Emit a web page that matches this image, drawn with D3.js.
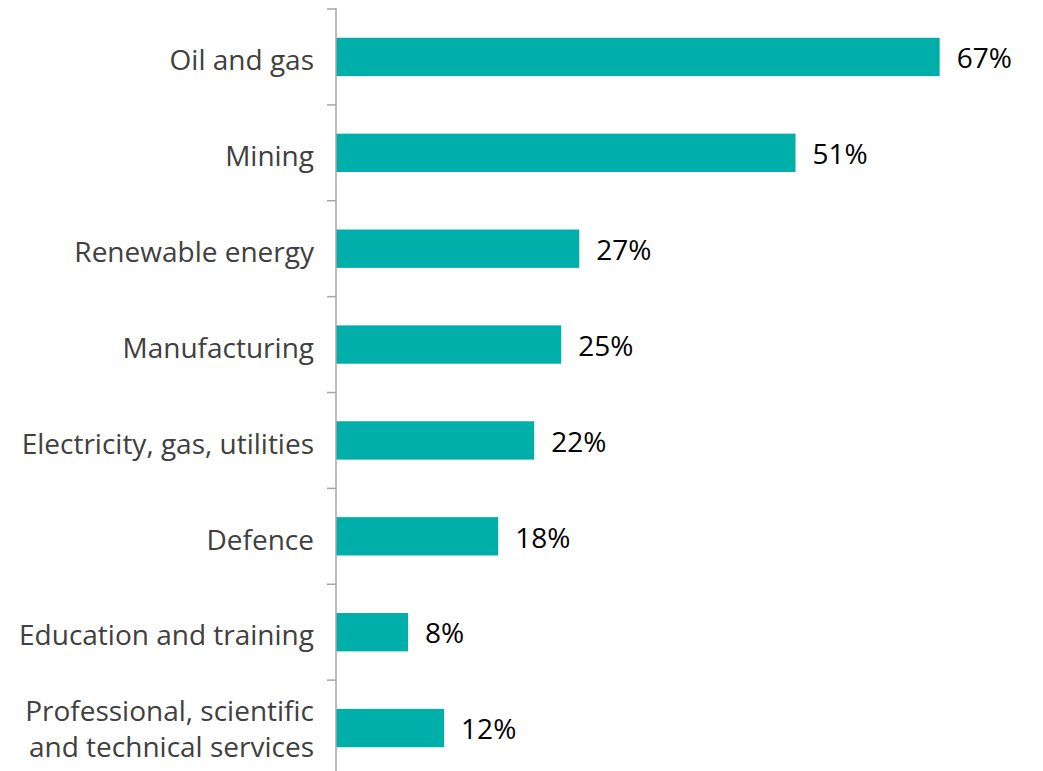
<!DOCTYPE html>
<html>
<head>
<meta charset="utf-8">
<script src="https://cdn.jsdelivr.net/npm/d3@7"></script>
<style>
  html, body { margin: 0; padding: 0; background: #fff; }
  svg { display: block; }
</style>
</head>
<body>
<svg id="chart" width="1043" height="771"></svg>
<script>
// Share of respondents by sector
const categories = [
  ["Oil and gas"],
  ["Mining"],
  ["Renewable energy"],
  ["Manufacturing"],
  ["Electricity, gas, utilities"],
  ["Defence"],
  ["Education and training"],
  ["Professional, scientific", "and technical services"]
];
const values = [67, 51, 27, 25, 22, 18, 8, 12];

const W = 1043, H = 771;
const axisX = 336;
const svg = d3.select("#chart");

const y = d3.scaleBand()
  .domain(d3.range(categories.length))
  .range([9, 776])
  .paddingInner(0.6)
  .paddingOuter(0.3);

const x = d3.scaleLinear().domain([0, 100]).range([axisX, axisX + 901]);

const font = "'Open Sans', sans-serif";
const fontSize = 28;

// bars
svg.append("g").selectAll("rect")
  .data(values)
  .join("rect")
  .attr("x", x(0))
  .attr("y", (d, i) => y(i))
  .attr("width", d => x(d) - x(0))
  .attr("height", y.bandwidth())
  .attr("fill", "#00AFAA");

// vertical axis with ticks at band boundaries
const step = y.step();
const axisG = svg.append("g").attr("stroke", "#A6A6A6").attr("stroke-width", 1.5);
axisG.append("line")
  .attr("x1", axisX).attr("x2", axisX)
  .attr("y1", 8).attr("y2", H);
axisG.selectAll("line.tick")
  .data(d3.range(categories.length + 1))
  .join("line")
  .attr("class", "tick")
  .attr("x1", axisX - 9).attr("x2", axisX)
  .attr("y1", i => 9 + i * step)
  .attr("y2", i => 9 + i * step);

// category labels
const lineH = 35.5;
svg.append("g").selectAll("text")
  .data(categories)
  .join("text")
  .attr("text-anchor", "end")
  .attr("font-family", font)
  .attr("font-size", fontSize)
  .attr("fill", "#404040")
  .each(function(lines, i) {
    const cy = y(i) + y.bandwidth() / 2 + (lines.length > 1 ? 1 : 3.5);
    const t = d3.select(this);
    lines.forEach((ln, k) => {
      t.append("tspan")
        .attr("x", 314)
        .attr("y", cy + (k - (lines.length - 1) / 2) * lineH)
        .attr("dy", "0.35em")
        .text(ln);
    });
  });

// value labels
svg.append("g").selectAll("text")
  .data(values)
  .join("text")
  .attr("x", d => x(d) + 17)
  .attr("y", (d, i) => y(i) + y.bandwidth() / 2 + 1.5)
  .attr("dy", "0.35em")
  .attr("font-family", font)
  .attr("font-size", fontSize)
  .attr("fill", "#000")
  .text(d => d + "%");
</script>
</body>
</html>
